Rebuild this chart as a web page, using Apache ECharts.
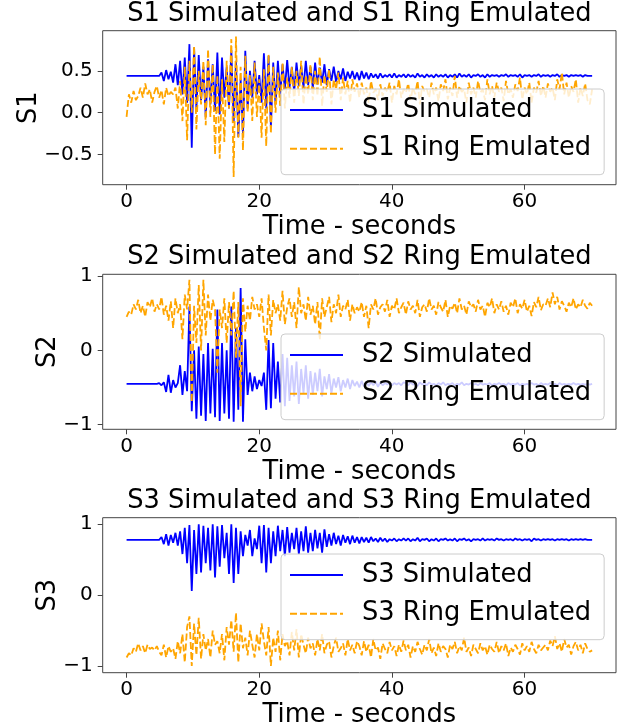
<!DOCTYPE html>
<html>
<head>
<meta charset="utf-8">
<script src="https://cdn.jsdelivr.net/npm/echarts@6/dist/echarts.min.js"></script>
<style>
  html, body { margin: 0; padding: 0; background: #fff; }
  #chart { width: 618px; height: 727px; }
</style>
</head>
<body>
<div id="chart"></div>
<script>
// samples are evenly spaced in time
const sampleStep = 0.351;

const xTicks = [0, 20, 40, 60];
const yTicks = [[-0.5, 0, 0.5], [-1, 0, 1], [-1, 0, 1]];
const plotTitles = ['S1 Simulated and S1 Ring Emulated', 'S2 Simulated and S2 Ring Emulated', 'S3 Simulated and S3 Ring Emulated'];
const yNames = ['S1', 'S2', 'S3'];
const simNames = ['S1 Simulated', 'S2 Simulated', 'S3 Simulated'];
const ringNames = ['S1 Ring Emulated', 'S2 Ring Emulated', 'S3 Ring Emulated'];

const s1Sim = [
  0.44,0.44,0.44,0.44,0.44,0.44,0.44,0.44,0.44,0.44,0.44,0.44,0.44,0.44,0.44,0.48,0.38,0.51,0.40,0.49,
  0.36,0.58,0.33,0.62,0.22,0.66,0.12,0.82,-0.42,0.78,0.05,0.69,0.15,0.55,-0.05,0.64,0.10,0.58,0.02,0.72,
  -0.02,0.66,0.18,0.55,0.05,0.75,-0.12,0.62,-0.29,0.40,-0.26,0.74,0.05,0.50,0.18,0.62,0.22,0.45,0.12,0.71,
  0.05,0.68,-0.17,0.60,0.10,0.62,0.22,0.58,0.28,0.63,0.30,0.55,0.25,0.60,0.32,0.56,0.30,0.62,0.33,0.55,
  0.30,0.60,0.34,0.54,0.36,0.58,0.33,0.52,0.38,0.55,0.37,0.50,0.40,0.53,0.38,0.49,0.41,0.50,0.40,0.48,
  0.39,0.50,0.41,0.48,0.40,0.47,0.42,0.46,0.41,0.47,0.42,0.45,0.43,0.46,0.42,0.47,0.42,0.45,0.43,0.46,
  0.42,0.46,0.43,0.45,0.42,0.47,0.43,0.45,0.42,0.46,0.43,0.45,0.42,0.46,0.43,0.45,0.43,0.46,0.42,0.45,
  0.43,0.46,0.42,0.47,0.43,0.45,0.43,0.46,0.42,0.45,0.44,0.46,0.43,0.45,0.42,0.46,0.43,0.45,0.44,0.45,
  0.43,0.45,0.44,0.46,0.43,0.45,0.44,0.45,0.43,0.46,0.42,0.45,0.44,0.45,0.43,0.45,0.44,0.46,0.43,0.45,
  0.44,0.45,0.43,0.45,0.44,0.46,0.43,0.45,0.44,0.45,0.43,0.45,0.44,0.45,0.44,0.45,0.43,0.45,0.44,0.44,
  0.44
];
const s1Ring = [
  -0.05,0.22,0.12,0.26,0.15,0.20,0.30,0.18,0.35,0.22,0.28,0.12,0.25,0.32,0.18,0.27,0.10,0.30,0.20,0.25,
  0.22,0.30,0.05,0.38,-0.10,0.55,-0.33,0.62,0.00,0.80,-0.20,0.50,0.10,0.62,-0.15,0.76,-0.05,0.58,-0.50,0.45,
  -0.55,0.40,-0.35,0.62,0.05,0.88,-0.77,0.91,-0.30,0.55,-0.45,0.68,0.00,0.45,-0.10,0.60,-0.05,0.40,-0.30,0.52,
  -0.40,0.70,-0.25,0.55,0.00,0.48,0.08,0.60,0.05,0.42,0.18,0.55,0.12,0.50,0.20,0.62,0.10,0.45,0.22,0.58,
  0.15,0.50,0.20,0.67,0.08,0.45,0.25,0.52,0.10,0.40,0.28,0.48,0.15,0.42,0.22,0.38,0.12,0.40,0.25,0.35,
  0.18,0.36,0.22,0.30,0.12,0.38,0.24,0.28,0.15,0.34,0.20,0.30,0.25,0.36,0.12,0.32,0.22,0.40,0.18,0.28,
  0.24,0.35,0.15,0.30,0.22,0.38,0.10,0.32,0.25,0.28,0.18,0.36,0.22,0.30,0.14,0.34,0.26,0.40,0.16,0.30,
  0.20,0.44,0.18,0.32,0.25,0.28,0.12,0.36,0.22,0.30,0.18,0.38,0.24,0.28,0.15,0.40,0.22,0.32,0.18,0.36,
  0.25,0.30,0.14,0.38,0.22,0.28,0.18,0.34,0.26,0.42,0.16,0.30,0.22,0.36,0.12,0.30,0.24,0.38,0.20,0.32,
  0.18,0.35,0.25,0.30,0.15,0.40,0.28,0.48,0.22,0.36,0.18,0.32,0.25,0.40,0.12,0.30,0.20,0.35,0.15,0.10,
  0.28
];
const s2Sim = [
  -0.45,-0.45,-0.45,-0.45,-0.45,-0.45,-0.45,-0.45,-0.45,-0.45,-0.45,-0.45,-0.45,-0.45,-0.44,-0.47,-0.43,-0.56,-0.33,-0.57,
  -0.40,-0.50,-0.44,-0.20,-0.60,-0.28,-0.55,0.59,-0.82,0.00,-0.92,0.05,-0.88,-0.05,-0.95,0.10,-0.85,0.02,-0.90,0.55,
  -0.95,0.10,-0.85,0.00,-0.92,0.59,-0.96,0.30,-0.80,0.84,-0.96,0.15,-0.60,-0.30,-0.55,-0.35,-0.52,-0.40,-0.48,-0.30,
  -0.80,0.14,-0.78,0.10,-0.65,-0.15,-0.70,-0.05,-0.75,-0.10,-0.68,-0.20,-0.62,-0.15,-0.72,-0.25,-0.58,-0.20,-0.65,-0.28,
  -0.60,-0.30,-0.55,-0.25,-0.62,-0.35,-0.52,-0.32,-0.58,-0.38,-0.50,-0.36,-0.55,-0.40,-0.50,-0.38,-0.52,-0.40,-0.48,-0.42,
  -0.50,-0.41,-0.49,-0.42,-0.48,-0.43,-0.47,-0.42,-0.49,-0.43,-0.47,-0.44,-0.46,-0.43,-0.47,-0.44,-0.46,-0.44,-0.47,-0.43,
  -0.44,-0.47,-0.43,-0.46,-0.45,-0.48,-0.43,-0.46,-0.44,-0.47,-0.43,-0.46,-0.45,-0.47,-0.44,-0.46,-0.43,-0.47,-0.45,-0.46,
  -0.44,-0.47,-0.45,-0.46,-0.43,-0.47,-0.45,-0.46,-0.44,-0.46,-0.45,-0.47,-0.44,-0.46,-0.45,-0.46,-0.44,-0.47,-0.45,-0.46,
  -0.44,-0.46,-0.45,-0.47,-0.44,-0.46,-0.45,-0.46,-0.44,-0.47,-0.45,-0.46,-0.45,-0.46,-0.44,-0.46,-0.45,-0.47,-0.44,-0.46,
  -0.45,-0.46,-0.44,-0.46,-0.45,-0.47,-0.44,-0.46,-0.45,-0.46,-0.45,-0.46,-0.44,-0.46,-0.45,-0.46,-0.45,-0.46,-0.45,-0.46,
  -0.45
];
const s2Ring = [
  0.45,0.52,0.48,0.62,0.55,0.68,0.50,0.60,0.45,0.65,0.58,0.70,0.52,0.62,0.55,0.72,0.48,0.60,0.40,0.66,
  0.30,0.70,0.50,0.62,0.15,0.75,0.55,0.95,-0.70,0.60,0.10,0.88,0.00,0.95,0.20,0.75,0.40,0.68,0.55,-0.30,
  0.55,0.30,0.70,0.10,0.65,0.20,0.80,-0.10,0.65,-0.75,0.70,0.25,0.60,0.40,0.72,0.55,0.62,0.45,0.70,0.30,
  0.00,0.75,0.20,0.68,0.50,0.62,0.40,0.80,0.35,0.58,0.70,0.45,0.65,0.30,0.85,0.50,0.62,0.40,0.72,0.48,
  0.60,0.35,0.65,0.14,0.70,0.45,0.58,0.72,0.38,0.62,0.50,0.75,0.45,0.60,0.55,0.68,0.40,0.62,0.50,0.58,
  0.52,0.65,0.45,0.60,0.30,0.62,0.55,0.70,0.48,0.58,0.62,0.52,0.68,0.45,0.60,0.55,0.70,0.50,0.58,0.64,
  0.48,0.66,0.55,0.60,0.50,0.68,0.45,0.58,0.62,0.52,0.70,0.55,0.60,0.48,0.65,0.58,0.52,0.68,0.45,0.60,
  0.56,0.64,0.50,0.70,0.55,0.60,0.48,0.66,0.58,0.62,0.52,0.68,0.55,0.60,0.45,0.64,0.58,0.70,0.50,0.62,
  0.55,0.66,0.52,0.60,0.48,0.64,0.58,0.70,0.50,0.62,0.56,0.68,0.52,0.60,0.46,0.65,0.58,0.72,0.54,0.62,
  0.60,0.70,0.58,0.78,0.62,0.72,0.55,0.66,0.60,0.52,0.64,0.58,0.70,0.55,0.62,0.58,0.68,0.60,0.56,0.64,
  0.60
];
const s3Sim = [
  0.78,0.78,0.78,0.78,0.78,0.78,0.78,0.78,0.78,0.78,0.78,0.78,0.78,0.78,0.78,0.82,0.72,0.86,0.70,0.85,
  0.74,0.88,0.70,0.90,0.58,0.95,0.45,0.99,0.06,0.92,0.30,1.00,0.32,0.98,0.45,0.95,0.35,1.00,0.25,0.97,
  0.40,0.99,0.52,0.88,0.30,1.00,0.17,0.95,0.30,0.90,0.55,0.85,0.70,0.92,0.55,0.80,0.65,0.98,0.45,0.99,
  0.32,0.95,0.45,0.90,0.55,0.98,0.62,0.92,0.55,0.96,0.60,0.88,0.65,0.95,0.58,0.90,0.62,0.97,0.60,0.88,
  0.62,0.92,0.66,0.88,0.60,0.93,0.68,0.86,0.70,0.88,0.72,0.84,0.70,0.85,0.74,0.83,0.72,0.84,0.74,0.82,
  0.73,0.82,0.75,0.81,0.74,0.82,0.76,0.80,0.75,0.81,0.76,0.80,0.75,0.79,0.77,0.80,0.76,0.79,0.77,0.80,
  0.77,0.80,0.76,0.79,0.77,0.81,0.76,0.79,0.78,0.80,0.76,0.79,0.77,0.80,0.76,0.79,0.78,0.80,0.77,0.79,
  0.77,0.80,0.76,0.79,0.78,0.80,0.77,0.79,0.76,0.79,0.78,0.79,0.77,0.80,0.77,0.79,0.78,0.79,0.77,0.80,
  0.78,0.79,0.77,0.79,0.78,0.79,0.77,0.80,0.78,0.79,0.77,0.79,0.78,0.79,0.76,0.80,0.78,0.79,0.77,0.79,
  0.78,0.79,0.78,0.79,0.77,0.79,0.78,0.79,0.78,0.79,0.77,0.79,0.78,0.79,0.78,0.79,0.78,0.79,0.78,0.78,
  0.78
];
const s3Ring = [
  -0.88,-0.82,-0.85,-0.75,-0.80,-0.68,-0.78,-0.72,-0.82,-0.70,-0.76,-0.74,-0.78,-0.72,-0.80,-0.85,-0.70,-0.88,-0.72,-0.80,
  -0.75,-0.90,-0.65,-0.82,-0.55,-0.95,-0.45,-0.30,-1.00,-0.40,-0.85,-0.32,-0.90,-0.55,-0.78,-0.62,-0.88,-0.50,-0.70,-0.65,
  -0.82,-0.55,-0.92,-0.45,-0.70,-0.35,-0.80,-0.25,-0.95,-0.40,-0.75,-0.60,-0.85,-0.50,-0.70,-0.88,-0.55,-0.78,-0.40,-0.65,
  -0.85,-0.45,-1.00,-0.60,-0.80,-0.50,-0.92,-0.55,-0.72,-0.65,-0.85,-0.52,-0.78,-0.48,-0.88,-0.55,-0.70,-0.82,-0.60,-0.75,
  -0.68,-0.85,-0.62,-0.78,-0.55,-0.82,-0.70,-0.65,-0.88,-0.72,-0.60,-0.80,-0.75,-0.68,-0.85,-0.62,-0.78,-0.70,-0.82,-0.65,
  -0.72,-0.85,-0.65,-0.80,-0.70,-0.88,-0.62,-0.78,-0.74,-0.90,-0.68,-0.76,-0.82,-0.66,-0.78,-0.72,-0.86,-0.70,-0.80,-0.64,
  -0.78,-0.70,-0.88,-0.72,-0.80,-0.66,-0.76,-0.84,-0.70,-0.78,-0.62,-0.82,-0.74,-0.86,-0.68,-0.80,-0.72,-0.76,-0.88,-0.70,
  -0.76,-0.66,-0.82,-0.72,-0.78,-0.60,-0.80,-0.74,-0.86,-0.70,-0.76,-0.82,-0.68,-0.78,-0.72,-0.84,-0.70,-0.76,-0.80,-0.66,
  -0.82,-0.72,-0.78,-0.68,-0.86,-0.74,-0.80,-0.70,-0.76,-0.84,-0.68,-0.78,-0.72,-0.80,-0.66,-0.76,-0.82,-0.70,-0.78,-0.74,
  -0.70,-0.78,-0.64,-0.72,-0.58,-0.76,-0.68,-0.80,-0.62,-0.74,-0.70,-0.84,-0.72,-0.66,-0.78,-0.70,-0.82,-0.68,-0.76,-0.80,
  -0.78
];

const simData = [s1Sim, s2Sim, s3Sim];
const ringData = [s1Ring, s2Ring, s3Ring];

// layout
const FONT = 'DejaVu Sans';
const BIG = 25.7;
const gridTops = [30.7, 274.3, 517.7];
const gridHeights = [154, 155, 155];
const yRanges = [[-0.861, 0.981], [-1.062, 1.023], [-1.095, 1.093]];
const yNameGaps = [60, 41, 41];
const legendTops = [89, 334, 554];
const titleMids = [13.9, 257.5, 500.9];

const toPairs = (vals) => vals.map((v, i) => [+(i * sampleStep).toFixed(3), v]);
const fmtTick = (v, dec) => {
  const s = Math.abs(v).toFixed(dec);
  return (v < 0 ? '\u2212' : '') + s;
};

const buildOption = () => {
  const grid = [], xAxis = [], yAxis = [], series = [], legend = [], graphic = [];
  for (let k = 0; k < 3; k++) {
    grid.push({
      left: 102.7, top: gridTops[k], width: 513.3, height: gridHeights[k],
      show: true, borderColor: '#444', borderWidth: 1, backgroundColor: 'transparent',
      containLabel: false, outerBoundsMode: 'none'
    });
    xAxis.push({
      type: 'value', gridIndex: k, min: -3.6, max: 73.8,
      name: 'Time - seconds', nameLocation: 'middle', nameGap: 30, nameMoveOverlap: false,
      nameTextStyle: { fontSize: BIG, color: '#000', fontFamily: FONT },
      axisLine: { show: false, onZero: false },
      splitLine: { show: false },
      axisTick: { show: true, length: 5, inside: false, customValues: xTicks, lineStyle: { color: '#444' } },
      axisLabel: { customValues: xTicks, fontSize: 20, color: '#000', fontFamily: FONT, margin: 7 }
    });
    const dec = k === 0 ? 1 : 0;
    yAxis.push({
      type: 'value', gridIndex: k, min: yRanges[k][0], max: yRanges[k][1],
      name: yNames[k], nameLocation: 'middle', nameGap: yNameGaps[k], nameMoveOverlap: false,
      nameTextStyle: { fontSize: BIG, color: '#000', fontFamily: FONT },
      axisLine: { show: false, onZero: false },
      splitLine: { show: false },
      axisTick: { show: true, length: 5, inside: false, customValues: yTicks[k], lineStyle: { color: '#444' } },
      axisLabel: { customValues: yTicks[k], fontSize: 20, color: '#000', fontFamily: FONT, margin: 10,
        formatter: (v) => fmtTick(v, dec) }
    });
    series.push({
      name: simNames[k], type: 'line', xAxisIndex: k, yAxisIndex: k,
      data: toPairs(simData[k]), symbol: 'none', color: '#0000ff',
      lineStyle: { color: '#0000ff', width: 1.8 }
    });
    series.push({
      name: ringNames[k], type: 'line', xAxisIndex: k, yAxisIndex: k,
      data: toPairs(ringData[k]), symbol: 'none', color: '#ffa500',
      lineStyle: { color: '#ffa500', width: 1.8, type: [7, 3] }
    });
    legend.push({
      data: [simNames[k], ringNames[k]], orient: 'vertical',
      left: 281, top: legendTops[k], padding: [8, 13, 13, 8],
      itemWidth: 53, itemHeight: 14, itemGap: 12.7,
      itemStyle: { opacity: 0 },
      backgroundColor: 'rgba(255,255,255,0.8)', borderColor: '#cccccc', borderWidth: 1, borderRadius: 4,
      selectedMode: false,
      textStyle: { fontSize: BIG, color: '#000', fontFamily: FONT, lineHeight: 25, padding: [0, 0, 0, 14] }
    });
    graphic.push({
      type: 'text', x: 359.4, y: titleMids[k],
      style: { text: plotTitles[k], fill: '#000', font: BIG + 'px "DejaVu Sans"', textAlign: 'center', textVerticalAlign: 'middle' }
    });
  }
  return { animation: false, textStyle: { fontFamily: FONT }, grid, xAxis, yAxis, series, legend, graphic };
};

const chart = echarts.init(document.getElementById('chart'));
chart.setOption(buildOption());
</script>
</body>
</html>
